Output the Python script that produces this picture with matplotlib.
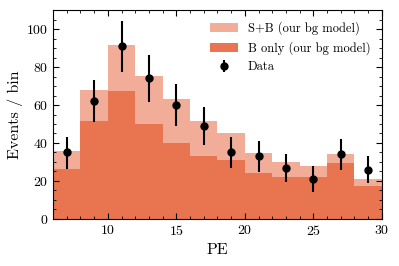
import matplotlib
matplotlib.use('Agg')
import matplotlib.pyplot as plt
import numpy as np
from matplotlib.ticker import MultipleLocator

plt.rcParams['font.family'] = 'serif'
plt.rcParams['font.serif'] = ['cmr10']
plt.rcParams['mathtext.fontset'] = 'cm'
plt.rcParams['axes.formatter.use_mathtext'] = True

# bins of width 2 PE
bin_edges = np.arange(6, 31, 2)
bin_centers = bin_edges[:-1] + 1

# model predictions per bin
s_plus_b = [36, 68, 91.5, 75.5, 63, 51.5, 45, 34.5, 30, 28, 34, 21]
b_only = [26.5, 51.5, 67.5, 50, 40, 33, 31, 24, 22, 22, 29.5, 17.5]

# observed data
data = [35, 62, 91, 74, 60, 49, 35, 33, 27, 21, 34, 26]
err_lo = [8.6, 11, 13.5, 12.3, 11, 9.8, 8.4, 8.2, 7.5, 6.6, 8.3, 7.3]
err_hi = [8.4, 11, 13.3, 12.2, 11, 9.8, 8.4, 8.2, 7.4, 6.7, 8.2, 7.3]

fig = plt.figure(figsize=(3.99, 2.66), dpi=100)
ax = fig.add_axes([0.133, 0.177, 0.824, 0.785])

ax.stairs(s_plus_b, bin_edges, fill=True, color='#f2ad99', label='S+B (our bg model)')
ax.stairs(b_only, bin_edges, fill=True, color='#e8754f', label='B only (our bg model)')
ax.errorbar(bin_centers, data, yerr=[err_lo, err_hi], fmt='o', color='black',
            markersize=5, elinewidth=1.5, capsize=0, label='Data')

ax.set_xlim(6, 30)
ax.set_ylim(0, 110)
ax.xaxis.set_major_locator(MultipleLocator(5))
ax.xaxis.set_minor_locator(MultipleLocator(1))
ax.yaxis.set_major_locator(MultipleLocator(20))
ax.yaxis.set_minor_locator(MultipleLocator(5))
ax.tick_params(which='both', direction='in', top=True, right=True, labelsize=10)
ax.tick_params(which='major', length=4)
ax.tick_params(which='minor', length=2)
for s in ax.spines.values():
    s.set_linewidth(0.8)

ax.set_xlabel('PE', fontsize=11.5)
ax.set_ylabel('Events / bin', fontsize=11.5, labelpad=2)
ax.legend(loc='upper right', frameon=False, fontsize=9, handlelength=2.2)

fig.savefig('out.png', dpi=100)
